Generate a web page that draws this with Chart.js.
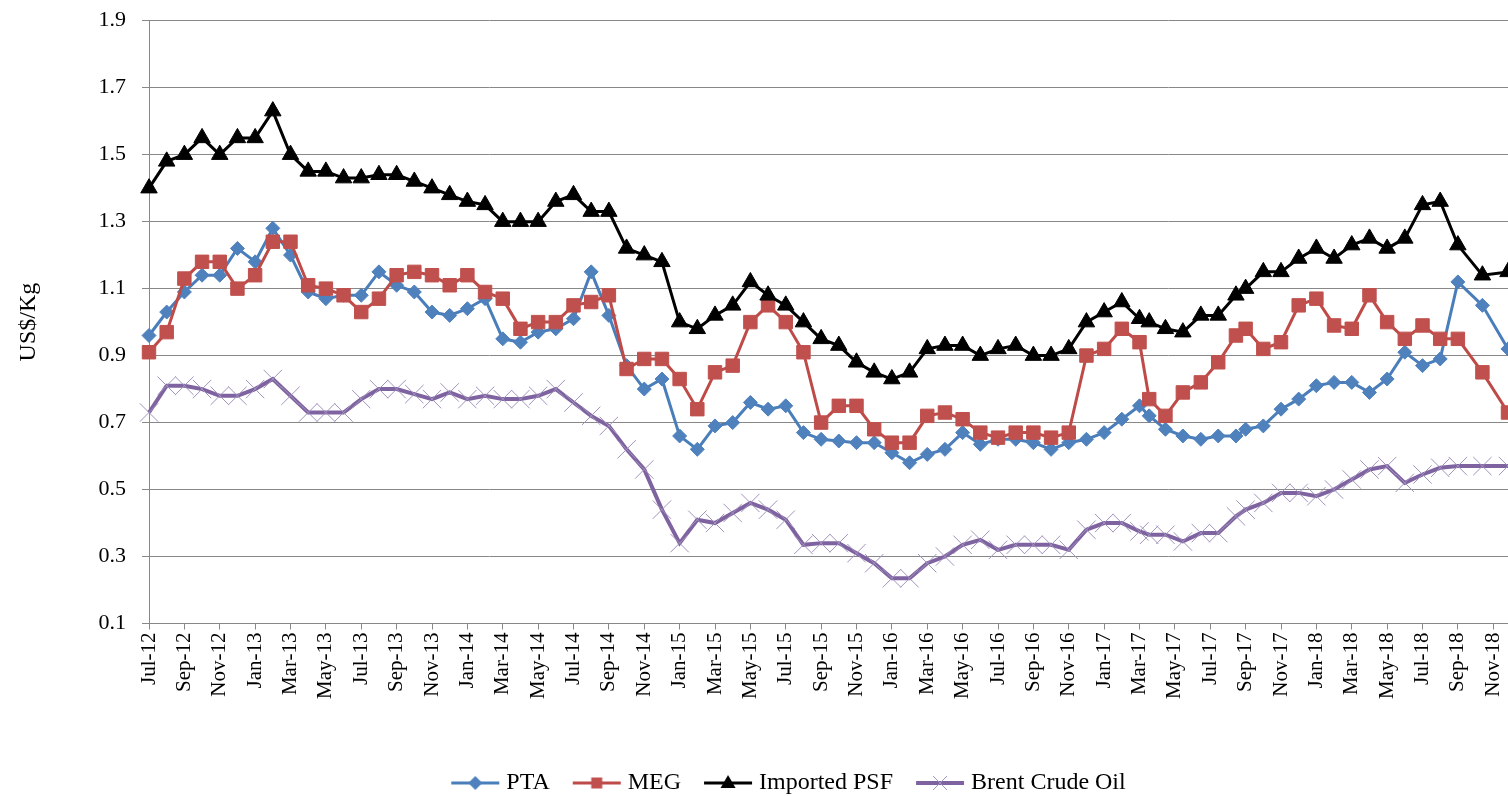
<!DOCTYPE html>
<html><head><meta charset="utf-8">
<script src="https://cdn.jsdelivr.net/npm/chart.js@4.4.1/dist/chart.umd.min.js"></script>
<style>html,body{margin:0;padding:0;background:#fff;overflow:hidden;}canvas{display:block;}</style>
</head><body>
<canvas id="c" width="1508" height="796"></canvas>
<script>
// ---- data ----
const dates = [
 '2012-07-01','2012-08-01','2012-09-01','2012-10-01','2012-11-01','2012-12-01',
 '2013-01-01','2013-02-01','2013-03-01','2013-04-01','2013-05-01','2013-06-01',
 '2013-07-01','2013-08-01','2013-09-01','2013-10-01','2013-11-01','2013-12-01',
 '2014-01-01','2014-02-01','2014-03-01','2014-04-01','2014-05-01','2014-06-01',
 '2014-07-01','2014-08-01','2014-09-01','2014-10-01','2014-11-01','2014-12-01',
 '2015-01-01','2015-02-01','2015-03-01','2015-04-01','2015-05-01','2015-06-01',
 '2015-07-01','2015-08-01','2015-09-01','2015-10-01','2015-11-01','2015-12-01',
 '2016-01-01','2016-02-01','2016-03-01','2016-04-01','2016-05-01','2016-06-01',
 '2016-07-01','2016-08-01','2016-09-01','2016-10-01','2016-11-01','2016-12-01',
 '2017-01-01','2017-02-01','2017-03-01',
 '2017-03-18','2017-04-15','2017-05-15','2017-06-15','2017-07-15','2017-08-15',
 '2017-09-01','2017-10-01','2017-11-01','2017-12-01',
 '2018-01-01','2018-02-01','2018-03-01','2018-04-01','2018-05-01','2018-06-01',
 '2018-07-01','2018-08-01','2018-09-01',
 '2018-10-13','2018-11-26'
];
const xTickLabels = ['Jul-12','Sep-12','Nov-12','Jan-13','Mar-13','May-13','Jul-13','Sep-13','Nov-13',
 'Jan-14','Mar-14','May-14','Jul-14','Sep-14','Nov-14','Jan-15','Mar-15','May-15','Jul-15','Sep-15','Nov-15',
 'Jan-16','Mar-16','May-16','Jul-16','Sep-16','Nov-16','Jan-17','Mar-17','May-17','Jul-17','Sep-17','Nov-17',
 'Jan-18','Mar-18','May-18','Jul-18','Sep-18','Nov-18'];
const yTickValues = [0.1,0.3,0.5,0.7,0.9,1.1,1.3,1.5,1.7,1.9];

const pta = [
 0.96,1.03,1.09,1.14,1.14,1.22,1.18,1.28,1.20,1.09,
 1.07,1.08,1.08,1.15,1.11,1.09,1.03,1.02,1.04,1.07,
 0.95,0.94,0.97,0.98,1.01,1.15,1.02,0.87,0.80,0.83,
 0.66,0.62,0.69,0.70,0.76,0.74,0.75,0.67,0.65,0.645,
 0.64,0.64,0.61,0.58,0.605,0.62,0.67,0.635,0.65,0.65,
 0.64,0.62,0.64,0.65,0.67,0.71,0.75,
 0.72,0.68,0.66,0.65,0.66,0.66,
 0.68,0.69,0.74,0.77,0.81,0.82,0.82,0.79,0.83,0.91,0.87,0.89,1.12,
 1.05,0.92
];
const meg = [
 0.91,0.97,1.13,1.18,1.18,1.10,1.14,1.24,1.24,1.11,
 1.10,1.08,1.03,1.07,1.14,1.15,1.14,1.11,1.14,1.09,
 1.07,0.98,1.00,1.00,1.05,1.06,1.08,0.86,0.89,0.89,
 0.83,0.74,0.85,0.87,1.00,1.05,1.00,0.91,0.70,0.75,
 0.75,0.68,0.64,0.64,0.72,0.73,0.71,0.67,0.655,0.67,
 0.67,0.655,0.67,0.90,0.92,0.98,0.94,
 0.77,0.72,0.79,0.82,0.88,0.96,
 0.98,0.92,0.94,1.05,1.07,0.99,0.98,1.08,1.00,0.95,0.99,0.95,0.95,
 0.85,0.73
];
const psf = [
 1.40,1.48,1.50,1.55,1.50,1.55,1.55,1.63,1.50,1.45,
 1.45,1.43,1.43,1.44,1.44,1.42,1.40,1.38,1.36,1.35,
 1.30,1.30,1.30,1.36,1.38,1.33,1.33,1.22,1.20,1.18,
 1.00,0.98,1.02,1.05,1.12,1.08,1.05,1.00,0.95,0.93,
 0.88,0.85,0.83,0.85,0.92,0.93,0.93,0.90,0.92,0.93,
 0.90,0.90,0.92,1.00,1.03,1.06,1.01,
 1.00,0.98,0.97,1.02,1.02,1.08,
 1.10,1.15,1.15,1.19,1.22,1.19,1.23,1.25,1.22,1.25,1.35,1.36,1.23,
 1.14,1.15
];
const brent = [
 0.73,0.81,0.81,0.80,0.78,0.78,0.80,0.83,0.78,0.73,
 0.73,0.73,0.77,0.80,0.80,0.785,0.77,0.79,0.77,0.78,
 0.77,0.77,0.78,0.80,0.76,0.72,0.69,0.62,0.56,0.44,
 0.34,0.41,0.40,0.43,0.46,0.44,0.41,0.335,0.34,0.34,
 0.31,0.28,0.235,0.235,0.28,0.30,0.335,0.35,0.32,0.335,
 0.335,0.335,0.32,0.38,0.40,0.40,0.375,
 0.365,0.365,0.345,0.37,0.37,0.42,
 0.44,0.46,0.49,0.49,0.48,0.50,0.53,0.56,0.57,0.52,0.545,0.565,0.57,
 0.57,0.57
];

// ---- helpers ----
const monthPos = s => {
  const [y, m, d] = s.split('-').map(Number);
  const dim = new Date(y, m, 0).getDate();
  return (y - 2012) * 12 + (m - 7) + (d - 1) / dim;
};
const xs = dates.map(monthPos);
const pts = arr => arr.map((v, i) => ({x: xs[i], y: v}));

const SERIF = "'Liberation Serif','Times New Roman',serif";

function legendIcon(kind, lineColor, lineW, fill, stroke) {
  const c = document.createElement('canvas');
  c.width = 50; c.height = 26;
  const g = c.getContext('2d');
  g.strokeStyle = lineColor; g.lineWidth = lineW;
  g.beginPath(); g.moveTo(1, 13); g.lineTo(49, 13); g.stroke();
  g.fillStyle = fill; g.strokeStyle = stroke; g.lineWidth = 1;
  g.beginPath();
  if (kind === 'diamond') {
    g.moveTo(25, 6); g.lineTo(32, 13); g.lineTo(25, 20); g.lineTo(18, 13); g.closePath(); g.fill();
  } else if (kind === 'square') {
    g.rect(19.5, 7.5, 11, 11); g.fill();
  } else if (kind === 'triangle') {
    g.moveTo(25, 5); g.lineTo(32.5, 18); g.lineTo(17.5, 18); g.closePath(); g.fill();
  } else if (kind === 'x') {
    g.moveTo(18, 6); g.lineTo(32, 20); g.moveTo(32, 6); g.lineTo(18, 20); g.stroke();
  }
  return c;
}

const series = [
  {label: 'PTA', values: pta, line: '#4A7EBB', fill: '#4F81BD', style: 'rectRot', r: 7, order: 4, icon: 'diamond', bw: 3},
  {label: 'MEG', values: meg, line: '#BE4B48', fill: '#C0504D', style: 'rect', r: 9.5, order: 3, icon: 'square', bw: 3},
  {label: 'Imported PSF', values: psf, line: '#000000', fill: '#000000', style: 'triangle', r: 9.5, order: 2, icon: 'triangle', bw: 3},
  {label: 'Brent Crude Oil', values: brent, line: '#7F63A1', fill: '#A093BC', style: 'crossRot', r: 13, order: 1, icon: 'x', bw: 4}
];
const icons = series.map(s => legendIcon(s.icon, s.line, s.bw, s.fill, s.fill));

const legendShift = {
  id: 'legendShift',
  afterLayout(chart) {
    const l = chart.legend;
    if (!l) return;
    l.top += 9; l.bottom += 9; l.left += 37; l.right += 37;
  }
};

new Chart(document.getElementById('c'), {
  type: 'line',
  data: {
    datasets: series.map(s => ({
      label: s.label,
      data: pts(s.values),
      borderColor: s.line,
      backgroundColor: s.fill,
      borderWidth: s.bw,
      pointStyle: s.style,
      pointRadius: s.r,
      pointBorderWidth: 1,
      pointBorderColor: s.fill,
      pointBackgroundColor: s.fill,
      tension: 0,
      fill: false,
      clip: 20,
      order: s.order
    }))
  },
  options: {
    responsive: false,
    animation: false,
    events: [],
    layout: {autoPadding: false, padding: {top: 20.7, right: 0, left: 0, bottom: 0}},
    scales: {
      x: {
        type: 'linear',
        min: 0,
        max: xs[xs.length - 1],
        afterBuildTicks: s => { s.ticks = xTickLabels.map((_, i) => ({value: i * 2})); },
        afterFit: s => { s.height = 110.5; s.paddingLeft = 0; s.paddingRight = 0; },
        ticks: {
          autoSkip: false, minRotation: 90, maxRotation: 90, padding: 3,
          color: '#000', font: {family: SERIF, size: 21},
          callback: (v, i) => xTickLabels[i]
        },
        grid: {drawOnChartArea: false, drawTicks: true, tickLength: 6, color: '#888', lineWidth: 1},
        border: {color: '#888', width: 1}
      },
      y: {
        min: 0.1, max: 1.9,
        afterBuildTicks: s => { s.ticks = yTickValues.map(v => ({value: v})); },
        afterFit: s => { s.width = 149; s.paddingTop = 0; s.paddingBottom = 0; },
        ticks: {
          padding: 16, color: '#000', font: {family: SERIF, size: 22},
          callback: v => Number(v).toFixed(1)
        },
        grid: {color: '#888', lineWidth: 1, tickLength: 7},
        border: {color: '#888', width: 1},
        title: {display: true, text: 'US$/Kg', color: '#000', font: {family: SERIF, size: 24}, padding: {top: 14, bottom: 0}}
      }
    },
    plugins: {
      tooltip: {enabled: false},
      legend: {
        position: 'bottom',
        labels: {
          usePointStyle: true,
          pointStyleWidth: 38,
          padding: 28,
          color: '#000',
          font: {family: SERIF, size: 24},
          generateLabels: chart => chart.data.datasets.map((ds, i) => ({
            text: ds.label, pointStyle: icons[i], datasetIndex: i, hidden: false,
            lineWidth: 0, strokeStyle: 'rgba(0,0,0,0)', fillStyle: 'rgba(0,0,0,0)', fontColor: '#000'
          }))
        }
      }
    }
  },
  plugins: [legendShift]
});
</script>
</body></html>
